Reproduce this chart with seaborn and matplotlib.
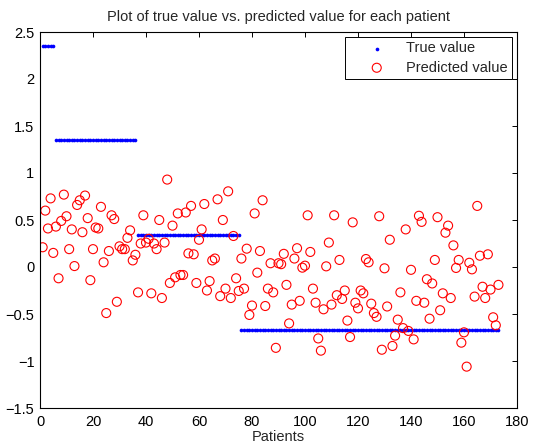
import numpy as np
import pandas as pd
import matplotlib
matplotlib.use("Agg")
import matplotlib.pyplot as plt
import seaborn as sns

# ---- data ----
true_levels = [2.35, 1.35, 0.34, -0.67]
true_counts = [5, 31, 39, 98]

predicted = [
    # patients 1-36
    0.21, 0.60, 0.41, 0.73, 0.15, 0.43, -0.12, 0.49, 0.77, 0.54,
    0.19, 0.40, 0.01, 0.66, 0.71, 0.37, 0.76, 0.52, -0.14, 0.19,
    0.42, 0.41, 0.64, 0.05, -0.49, 0.17, 0.55, 0.51, -0.37, 0.22,
    0.19, 0.19, 0.31, 0.39, 0.07, 0.13,
    # patients 37-84
    -0.27, 0.25, 0.55, 0.26, 0.30, -0.28, 0.25, 0.19, 0.50, -0.33,
    0.26, 0.93, -0.17, 0.44, -0.11, 0.57, -0.085, -0.085, 0.58, 0.145,
    0.65, 0.135, -0.17, 0.29, 0.40, 0.67, -0.25, -0.15, 0.07, 0.09,
    0.72, -0.31, 0.50, -0.23, 0.805, -0.33, 0.33, -0.12, -0.255, 0.09,
    -0.23, 0.195, -0.51, -0.41, 0.57, -0.06, 0.17, 0.71,
    # patients 85-111
    -0.415, -0.23, 0.04, -0.27, -0.86, 0.04, 0.03, 0.14, -0.19,
    -0.60, -0.40, 0.09, 0.20, -0.36, -0.007, 0.014, 0.55, 0.16, -0.23,
    -0.38, -0.76, -0.89, -0.45, 0.007, 0.26, -0.40, 0.55,
    # patients 112-147
    -0.30, 0.075, -0.34, -0.25, -0.57, -0.745, 0.475, -0.38, -0.44, -0.25,
    -0.28, 0.085, 0.05, -0.39, -0.49, -0.53, 0.54, -0.88, -0.014,
    -0.42, 0.29, -0.84, -0.73, -0.56, -0.27, -0.65, 0.40, -0.68, -0.03,
    -0.77, -0.36, 0.545, 0.48, -0.38, -0.13, -0.55,
    # patients 148-173
    -0.175, 0.075, 0.53, -0.46, -0.28, 0.365, 0.44, -0.33, 0.23,
    -0.01, 0.075, -0.805, -0.695, -1.06, 0.045, -0.025, -0.315, 0.65, 0.12,
    -0.21, -0.33, 0.135, -0.24, -0.535, -0.62, -0.19,
]

x_ticks = [0, 20, 40, 60, 80, 100, 120, 140, 160, 180]
y_ticks = [-1.5, -1, -0.5, 0, 0.5, 1, 1.5, 2, 2.5]
y_tick_labels = ["\u22121.5", "\u22121", "\u22120.5", "0", "0.5", "1", "1.5", "2", "2.5"]

title = "Plot of true value vs. predicted value for each patient"
x_label = "Patients"
series_labels = ["True value", "Predicted value"]

# ---- styling ----
sns.set_theme(style="white")
plt.rcParams["font.family"] = ["Liberation Sans", "DejaVu Sans"]

true_vals = np.repeat(true_levels, true_counts)
patients = np.arange(1, len(predicted) + 1)
df = pd.DataFrame({"patient": patients, "true": true_vals, "pred": predicted})

fig = plt.figure(figsize=(5.33, 4.48), dpi=100)
fig.patch.set_facecolor("white")
ax = fig.add_axes([40 / 533, 40 / 448, 477 / 533, 376 / 448])

sns.scatterplot(data=df, x="patient", y="true", marker="o", s=7,
                color="blue", linewidth=0, label=series_labels[0], ax=ax)
sns.scatterplot(data=df, x="patient", y="pred", marker="o", s=42,
                facecolor="none", edgecolor="red", linewidth=0.8,
                label=series_labels[1], ax=ax)

ax.set_xlim(x_ticks[0], x_ticks[-1])
ax.set_ylim(y_ticks[0], y_ticks[-1])
ax.set_xticks(x_ticks)
ax.set_xticklabels([str(t) for t in x_ticks])
ax.set_yticks(y_ticks)
ax.set_yticklabels(y_tick_labels)

ax.set_title(title, fontsize=10.5, pad=8)
ax.set_xlabel(x_label, fontsize=10.5, labelpad=1)
ax.set_ylabel("")

for sp in ax.spines.values():
    sp.set_visible(True)
    sp.set_color("black")
    sp.set_linewidth(0.8)

ax.tick_params(axis="both", which="both", direction="in", top=True, right=True,
               length=3.5, width=0.7, color="black", labelsize=10.5, labelcolor="black")
ax.tick_params(axis="x", pad=5)
ax.tick_params(axis="y", pad=4)

leg = ax.legend(loc="upper right", frameon=True, fancybox=False, edgecolor="black",
                framealpha=1, fontsize=10.5, borderaxespad=0.35, borderpad=0.3,
                handlelength=3.8, handletextpad=0.1, labelspacing=0.35,
                scatterpoints=1)
leg.get_frame().set_linewidth(0.7)

fig.savefig("out.png", dpi=100, facecolor="white")
